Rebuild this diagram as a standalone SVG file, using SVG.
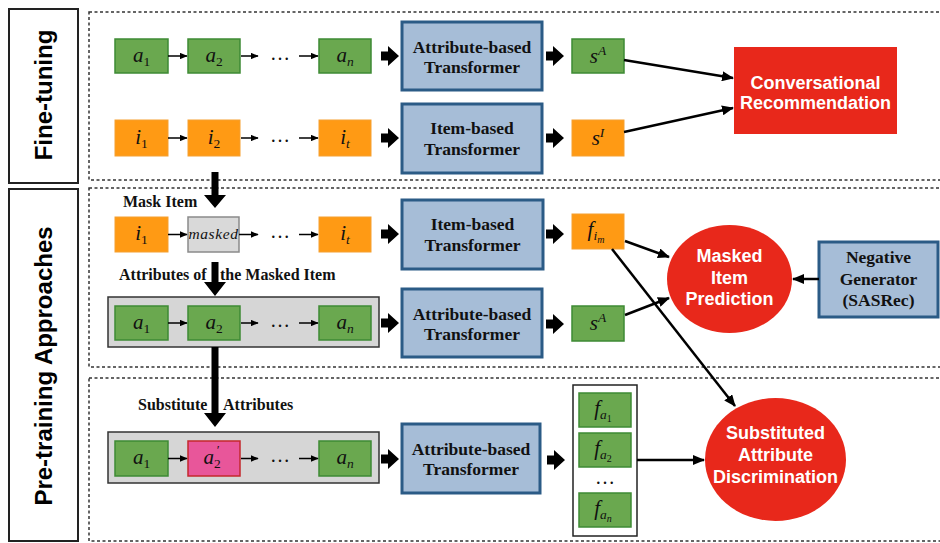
<svg xmlns="http://www.w3.org/2000/svg" width="940" height="543" viewBox="0 0 940 543">
  <style>
    .frame { fill: none; stroke: #222; stroke-width: 2; }
    .dash { fill: none; stroke: #333; stroke-width: 1.5; stroke-dasharray: 3 2.5; }
    .side { font-family: "Liberation Sans", Arial, sans-serif; font-weight: bold; font-size: 24px; fill: #000; text-anchor: middle; }
    .grn { fill: #6aa84f; stroke: #3e8a34; stroke-width: 1.5; }
    .org { fill: #ff9a14; stroke: #f5a030; stroke-width: 1; }
    .pink { fill: #e8569a; stroke: #c4282c; stroke-width: 1.5; }
    .gray { fill: #d9d9d9; stroke: #8a8a8a; stroke-width: 1.5; }
    .cont { fill: #d6d6d6; stroke: #333; stroke-width: 1.5; }
    .col { fill: #fff; stroke: #222; stroke-width: 1.5; }
    .tf { fill: #a6bdd7; stroke: #2b5b86; stroke-width: 3; }
    .red { fill: #e8281b; }
    .m { font-family: "Liberation Serif", "Times New Roman", serif; font-style: italic; font-size: 21px; fill: #111; text-anchor: middle; }
    .s { font-size: 13.5px; }
    .ss { font-size: 10px; }
    .up { font-style: normal; }
    .tb { font-family: "Liberation Serif", "Times New Roman", serif; font-weight: bold; font-size: 17.5px; fill: #111; text-anchor: middle; }
    .lbl { font-family: "Liberation Serif", "Times New Roman", serif; font-weight: bold; font-size: 16px; fill: #111; }
    .wt { font-family: "Liberation Sans", Arial, sans-serif; font-weight: bold; font-size: 18px; fill: #fff; text-anchor: middle; }
    .dots { font-family: "Liberation Serif", "Times New Roman", serif; font-size: 20px; fill: #111; text-anchor: middle; }
    .thin { fill: none; stroke: #000; stroke-width: 1.5; marker-end: url(#sm); }
    .thick { fill: none; stroke: #000; stroke-width: 2.5; marker-end: url(#ah); }
    .blk { fill: #000; }
  </style>
  <defs>
    <marker id="sm" viewBox="0 0 12 10" refX="11" refY="5" markerWidth="5.3" markerHeight="4.4" orient="auto">
      <path d="M0,0 L12,5 L0,10 z" fill="#000"/>
    </marker>
    <marker id="ah" viewBox="0 0 12 10" refX="11" refY="5" markerWidth="4.8" markerHeight="4" orient="auto">
      <path d="M0,0 L12,5 L0,10 z" fill="#000"/>
    </marker>
    <!-- short block arrow pointing right -->
    <path id="bR" d="M0,-4.5 H7 V-10 L18,0 L7,10 V4.5 H0 Z"/>
  </defs>

  <!-- side titles -->
  <g id="title-finetune">
    <rect class="frame" x="9" y="9" width="69" height="174"/>
    <text class="side" transform="translate(52,95) rotate(-90)">Fine-tuning</text>
  </g>
  <g id="title-pretrain">
    <rect class="frame" x="9" y="189" width="69" height="352"/>
    <text class="side" transform="translate(52,366) rotate(-90)">Pre-training Approaches</text>
  </g>

  <!-- dashed section frames -->
  <g id="sections">
    <rect class="dash" x="89" y="12" width="870" height="168"/>
    <rect class="dash" x="89" y="188" width="870" height="179"/>
    <rect class="dash" x="89" y="378" width="870" height="163"/>
  </g>

  <!-- fine-tuning: attribute sequence -->
  <g id="ft-a1"><rect class="grn" x="115" y="39" width="53" height="34"/><text class="m" x="141.5" y="62">a<tspan class="s up" dy="4">1</tspan></text></g>
  <g id="ft-a2"><rect class="grn" x="188" y="39" width="52" height="34"/><text class="m" x="214" y="62">a<tspan class="s up" dy="4">2</tspan></text></g>
  <g id="ft-an"><rect class="grn" x="319" y="39" width="52" height="34"/><text class="m" x="345" y="62">a<tspan class="s" dy="4">n</tspan></text></g>
  <text class="dots" x="280" y="60">…</text>

  <g id="ft-attr-tf"><rect class="tf" x="402" y="22" width="140" height="68"/><text class="tb" x="472" y="53">Attribute-based</text><text class="tb" x="472" y="73">Transformer</text></g>
  <g id="ft-sA"><rect class="grn" x="572" y="39" width="52" height="34"/><text class="m" x="598" y="63">s<tspan class="s" dy="-8">A</tspan></text></g>

  <!-- fine-tuning: item sequence -->
  <g id="ft-i1"><rect class="org" x="115" y="120" width="53" height="36"/><text class="m" x="141.5" y="144">i<tspan class="s up" dy="4">1</tspan></text></g>
  <g id="ft-i2"><rect class="org" x="188" y="120" width="52" height="36"/><text class="m" x="214" y="144">i<tspan class="s up" dy="4">2</tspan></text></g>
  <g id="ft-it"><rect class="org" x="319" y="120" width="52" height="36"/><text class="m" x="345" y="144">i<tspan class="s" dy="4">t</tspan></text></g>
  <text class="dots" x="280" y="142">…</text>

  <g id="ft-item-tf"><rect class="tf" x="402" y="104" width="140" height="69"/><text class="tb" x="472" y="134">Item-based</text><text class="tb" x="472" y="155">Transformer</text></g>
  <g id="ft-sI"><rect class="org" x="572" y="120" width="52" height="36"/><text class="m" x="598" y="145">s<tspan class="s" dy="-8">I</tspan></text></g>

  <g id="conv-rec"><rect class="red" x="734" y="47" width="163" height="87"/><text class="wt" x="815.5" y="88.5">Conversational</text><text class="wt" x="815.5" y="108.5">Recommendation</text></g>

  <!-- pre-training: masked item prediction -->
  <text class="lbl" x="123" y="207">Mask Item</text>
  <g id="pt-i1"><rect class="org" x="115" y="217" width="53" height="35"/><text class="m" x="141.5" y="240">i<tspan class="s up" dy="4">1</tspan></text></g>
  <g id="pt-masked"><rect class="gray" x="188" y="217" width="51" height="35"/><text class="m" x="213.5" y="239" style="font-size:15.5px;letter-spacing:0.6px">masked</text></g>
  <g id="pt-it"><rect class="org" x="319" y="217" width="52" height="35"/><text class="m" x="345" y="240">i<tspan class="s" dy="4">t</tspan></text></g>
  <text class="dots" x="280" y="238">…</text>

  <g id="pt-item-tf"><rect class="tf" x="402" y="200" width="141" height="69"/><text class="tb" x="472.5" y="230">Item-based</text><text class="tb" x="472.5" y="251">Transformer</text></g>
  <g id="pt-fim"><rect class="org" x="572" y="214" width="52" height="35"/><text class="m" x="596" y="236">f<tspan class="s" dy="4">i</tspan><tspan class="ss" dy="3">m</tspan></text></g>

  <text class="lbl" y="280"><tspan x="119">Attributes of</tspan><tspan x="220">the Masked Item</tspan></text>
  <g id="pt-attr-seq">
    <rect class="cont" x="108" y="297" width="271" height="50"/>
    <rect class="grn" x="115" y="306" width="53" height="34"/><text class="m" x="141.5" y="329">a<tspan class="s up" dy="4">1</tspan></text>
    <rect class="grn" x="188" y="306" width="52" height="34"/><text class="m" x="214" y="329">a<tspan class="s up" dy="4">2</tspan></text>
    <rect class="grn" x="319" y="306" width="52" height="34"/><text class="m" x="345" y="329">a<tspan class="s" dy="4">n</tspan></text>
    <text class="dots" x="280" y="327">…</text>
  </g>
  <g id="pt-attr-tf"><rect class="tf" x="402" y="289" width="140" height="68"/><text class="tb" x="472" y="320">Attribute-based</text><text class="tb" x="472" y="340">Transformer</text></g>
  <g id="pt-sA"><rect class="grn" x="572" y="306" width="52" height="35"/><text class="m" x="598" y="330">s<tspan class="s" dy="-8">A</tspan></text></g>

  <g id="mip"><ellipse class="red" cx="729.5" cy="279" rx="62.5" ry="54"/><text class="wt" x="729.5" y="262">Masked</text><text class="wt" x="729.5" y="283.5">Item</text><text class="wt" x="729.5" y="305">Prediction</text></g>
  <g id="neg-gen"><rect class="tf" x="819" y="242" width="119" height="75"/><text class="tb" x="878.5" y="263">Negative</text><text class="tb" x="878.5" y="285">Generator</text><text class="tb" x="878.5" y="306">(SASRec)</text></g>

  <!-- pre-training: substituted attribute discrimination -->
  <text class="lbl" y="410"><tspan x="138">Substitute</tspan><tspan x="223">Attributes</tspan></text>
  <g id="pt-sub-seq">
    <rect class="cont" x="108" y="432" width="271" height="51"/>
    <rect class="grn" x="115" y="441" width="53" height="35"/><text class="m" x="141.5" y="464">a<tspan class="s up" dy="4">1</tspan></text>
    <rect class="pink" x="188" y="441" width="52" height="35"/><text class="m" x="212" y="464">a<tspan class="s up" dy="4">2</tspan><tspan class="s up" dx="-4" dy="-14">′</tspan></text>
    <rect class="grn" x="319" y="441" width="52" height="35"/><text class="m" x="345" y="464">a<tspan class="s" dy="4">n</tspan></text>
    <text class="dots" x="280" y="462">…</text>
  </g>
  <g id="pt-sub-tf"><rect class="tf" x="402" y="424" width="138" height="69"/><text class="tb" x="471" y="455">Attribute-based</text><text class="tb" x="471" y="475">Transformer</text></g>
  <g id="pt-fa">
    <rect class="col" x="573" y="385" width="64" height="151"/>
    <rect class="grn" x="579" y="393" width="52" height="34"/><text class="m" x="603" y="415">f<tspan class="s" dy="4">a</tspan><tspan class="ss up" dy="3">1</tspan></text>
    <rect class="grn" x="579" y="433" width="52" height="34"/><text class="m" x="603" y="455">f<tspan class="s" dy="4">a</tspan><tspan class="ss up" dy="3">2</tspan></text>
    <text class="dots" x="605" y="484">…</text>
    <rect class="grn" x="579" y="493" width="52" height="34"/><text class="m" x="603" y="515">f<tspan class="s" dy="4">a</tspan><tspan class="ss" dy="3">n</tspan></text>
  </g>
  <g id="sad"><ellipse class="red" cx="775.5" cy="459.5" rx="70.5" ry="61.5"/><text class="wt" x="775.5" y="439">Substituted</text><text class="wt" x="775.5" y="461">Attribute</text><text class="wt" x="775.5" y="483">Discrimination</text></g>

  <!-- connectors -->
  <g id="connectors">
    <!-- chain arrows -->
    <path class="thin" d="M168,56 H187"/>
    <path class="thin" d="M241,56 H258"/>
    <path class="thin" d="M299,56 H318"/>
    <path class="thin" d="M168,138 H187"/>
    <path class="thin" d="M241,138 H258"/>
    <path class="thin" d="M299,138 H318"/>
    <path class="thin" d="M168,234.5 H187"/>
    <path class="thin" d="M239,234.5 H258"/>
    <path class="thin" d="M299,234.5 H318"/>
    <path class="thin" d="M168,323 H187"/>
    <path class="thin" d="M241,323 H258"/>
    <path class="thin" d="M299,323 H318"/>
    <path class="thin" d="M168,458.5 H187"/>
    <path class="thin" d="M241,458.5 H258"/>
    <path class="thin" d="M299,458.5 H318"/>

    <!-- block arrows into and out of transformers -->
    <use href="#bR" x="381" y="56"/>
    <use href="#bR" x="381" y="138"/>
    <use href="#bR" x="381" y="234"/>
    <use href="#bR" x="381" y="323"/>
    <use href="#bR" x="381" y="459"/>
    <use href="#bR" x="546" y="56"/>
    <use href="#bR" x="546" y="138"/>
    <use href="#bR" x="546" y="234"/>
    <use href="#bR" x="546" y="324"/>
    <use href="#bR" x="547" y="460"/>

    <!-- vertical block arrows between stages -->
    <path class="blk" d="M211.5,172 H218.5 V195 H226 L215,208 L204,195 H211.5 Z"/>
    <path class="blk" d="M211.5,262 H218.5 V282 H226 L215,296 L204,282 H211.5 Z"/>
    <path class="blk" d="M211.5,347 H218.5 V413 H226 L215,427 L204,413 H211.5 Z"/>

    <!-- outputs to objectives -->
    <path class="thick" d="M624,60 L733,78"/>
    <path class="thick" d="M624,132 L733,108"/>
    <path class="thick" d="M625,241 L669,257"/>
    <path class="thick" d="M625,315 L669,298"/>
    <path class="thick" d="M819,279 L793,279"/>
    <path class="thick" d="M612,249 L735,406"/>
    <path class="thick" d="M637,460 L704,460"/>
  </g>
</svg>
